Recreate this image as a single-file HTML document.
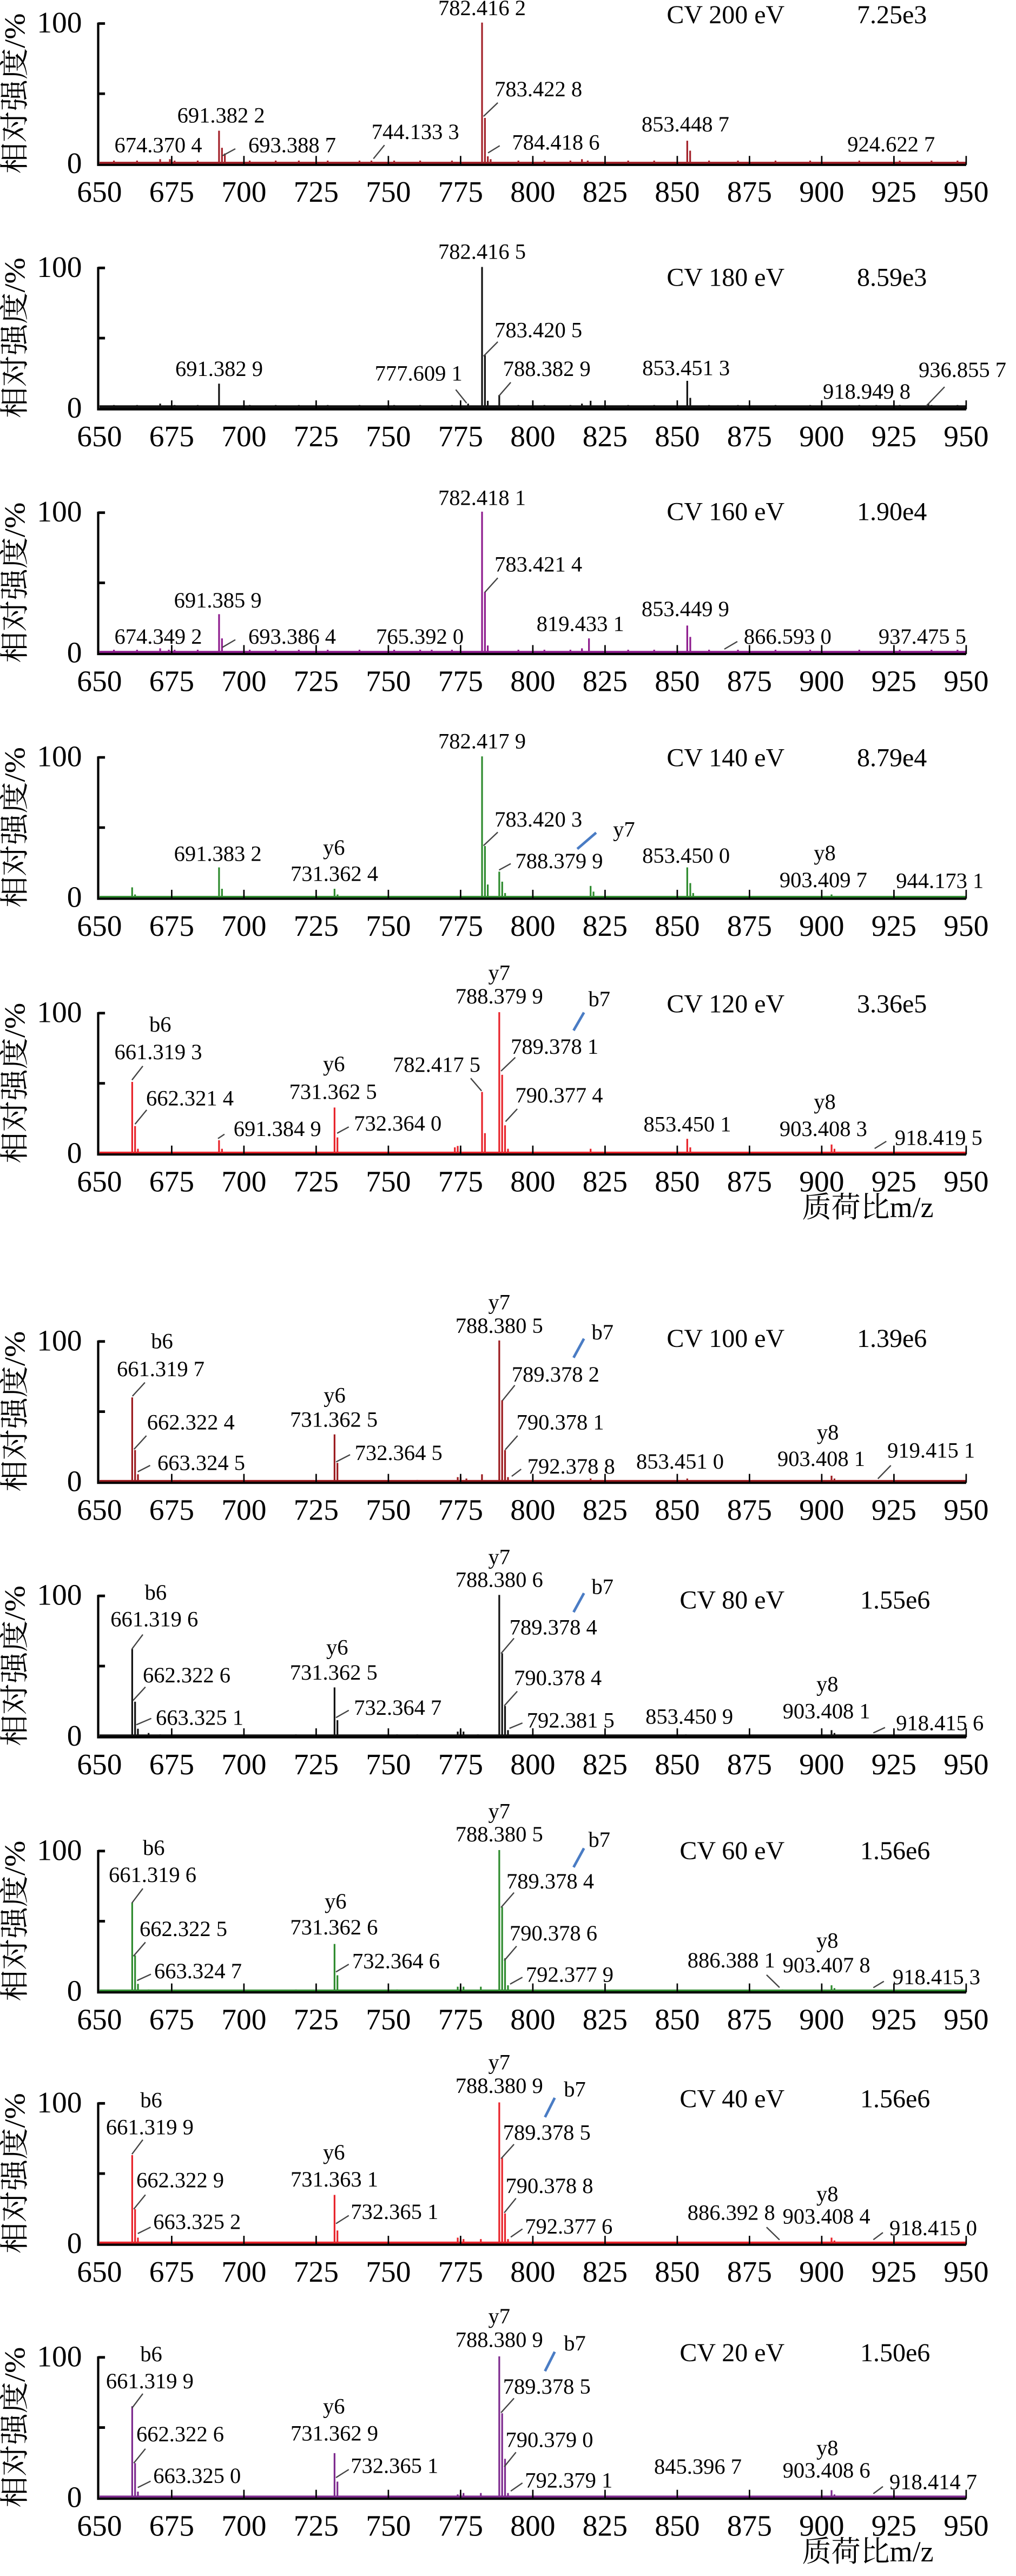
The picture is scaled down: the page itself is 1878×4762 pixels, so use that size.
<!DOCTYPE html>
<html><head><meta charset="utf-8"><style>
html,body{margin:0;padding:0;background:#fff;}
svg{display:block;}
text{font-family:"Liberation Serif","Noto Serif CJK SC",serif;fill:#000;}
.a{font-size:13.5px;}
.tk{font-size:18.5px;text-anchor:middle;}
.yt{font-size:18.5px;text-anchor:end;}
.cv{font-size:16px;}
.cve{font-size:16px;text-anchor:end;}
.m{text-anchor:middle;}
.yl{font-size:18px;font-family:"Liberation Serif","Noto Serif CJK SC","Noto Sans CJK SC",serif;text-anchor:middle;}
.ld{stroke:#444;stroke-width:0.8;fill:none;}
.bl{stroke:#4a7cc4;stroke-width:1.6;fill:none;}
.xl{font-size:18px;font-family:"Liberation Serif","Noto Serif CJK SC",serif;}
</style></head><body>
<svg width="1878" height="4762" viewBox="0 0 626 1587.33" xmlns="http://www.w3.org/2000/svg">
<defs>
<g id="ax" stroke="#000" fill="none">
<path d="M60.5 0V87.7H595.3" stroke-width="1.4"/>
<path d="M60.5 0.6H64.7M60.5 43.85H64.7" stroke-width="1.6"/>
<path d="M105.8 87.7V82.2M150.3 87.7V82.2M194.8 87.7V82.2M239.3 87.7V82.2M283.8 87.7V82.2M328.3 87.7V82.2M372.8 87.7V82.2M417.3 87.7V82.2M461.8 87.7V82.2M506.3 87.7V82.2M550.8 87.7V82.2M595.3 87.7V82.2" stroke-width="0.9"/>
</g>
<path id="nz" d="M655 0V3M658 0V2M663 0V3M667 0V2M671 0V4M676 0V3M680 0V2M684 0V3M697 0V2M702 0V3M706 0V2M711 0V3M715 0V2M719 0V3M724 0V2M729 0V3M736 0V2M740 0V3M747 0V2M752 0V3M757 0V2M761 0V3M768 0V2M772 0V3M795 0V3M799 0V2M804 0V3M809 0V2M813 0V3M817 0V4M828 0V2M833 0V3M838 0V2M842 0V3M846 0V2M861 0V3M866 0V2M871 0V3M878 0V2M884 0V3M891 0V2M896 0V3M909 0V2M913 0V3M920 0V2M927 0V3M933 0V2M938 0V3M943 0V2M947 0V3"/>
</defs>

<!-- Panel 1 -->
<g transform="translate(0,13.9)">
<text class="yl" transform="translate(15.2,43.7) rotate(-90)" textLength="99" lengthAdjust="spacingAndGlyphs">相对强度/%</text>
<text class="yt" x="50.5" y="6.1">100</text><text class="yt" x="50.5" y="92.8">0</text>
<g transform="translate(-1095.7,87.7) scale(1.78,-0.877)" stroke="#a3222a" stroke-width="0.6" fill="#a3222a">
<rect x="650" y="0" width="300" height="2.2" stroke="none"/>
<use href="#nz"/>
<path d="M782.42 0V100M783.42 0V33M784.42 0V6M785.4 0V4M691.38 0V24M692.4 0V12M693.39 0V8M853.45 0V17M854.45 0V10M674.37 0V4M744.13 0V3M819 0V3"/>
</g>
<use href="#ax"/>
<text class="tk" y="110.5"><tspan x="61.3">650</tspan><tspan x="105.8">675</tspan><tspan x="150.3">700</tspan><tspan x="194.8">725</tspan><tspan x="239.3">750</tspan><tspan x="283.8">775</tspan><tspan x="328.3">800</tspan><tspan x="372.8">825</tspan><tspan x="417.3">850</tspan><tspan x="461.8">875</tspan><tspan x="506.3">900</tspan><tspan x="550.8">925</tspan><tspan x="595.3">950</tspan></text>
<text class="a m" x="297" y="-4.5">782.416 2</text>
<text class="a" x="304.7" y="45.5">783.422 8</text>
<text class="a" x="109.2" y="61.6">691.382 2</text>
<text class="a" x="70.5" y="80">674.370 4</text>
<text class="a" x="153" y="80">693.388 7</text>
<text class="a" x="228.9" y="71.7">744.133 3</text>
<text class="a" x="315.5" y="78.3">784.418 6</text>
<text class="a" x="395.3" y="67.1">853.448 7</text>
<text class="a" x="522.1" y="79.4">924.622 7</text>
<text class="cve" x="483.4" y="0.5">CV 200 eV</text><text class="cv" x="528" y="0.5">7.25e3</text>
<path class="ld" d="M306.7 49.4L297.9 57.8M145 77.8L137 82.1M236.9 75.5L230.1 83.9M307.9 75.9L300.7 80.3"/>
</g>

<!-- Panel 2 -->
<g transform="translate(0,164.5)">
<text class="yl" transform="translate(15.2,43.7) rotate(-90)" textLength="99" lengthAdjust="spacingAndGlyphs">相对强度/%</text>
<text class="yt" x="50.5" y="6.1">100</text><text class="yt" x="50.5" y="92.8">0</text>
<g transform="translate(-1095.7,87.7) scale(1.78,-0.877)" stroke="#111" stroke-width="0.6" fill="#111">
<rect x="650" y="0" width="300" height="2.8" stroke="none"/>
<use href="#nz"/>
<path d="M782.42 0V100M783.42 0V38M784.4 0V6M691.38 0V18M788.38 0V10M853.45 0V20M854.5 0V8M777.6 0V4M820 0V6M918.9 0V3M936.9 0V4"/>
</g>
<use href="#ax"/>
<text class="tk" y="110.5"><tspan x="61.3">650</tspan><tspan x="105.8">675</tspan><tspan x="150.3">700</tspan><tspan x="194.8">725</tspan><tspan x="239.3">750</tspan><tspan x="283.8">775</tspan><tspan x="328.3">800</tspan><tspan x="372.8">825</tspan><tspan x="417.3">850</tspan><tspan x="461.8">875</tspan><tspan x="506.3">900</tspan><tspan x="550.8">925</tspan><tspan x="595.3">950</tspan></text>
<text class="a m" x="297" y="-5">782.416 5</text>
<text class="a" x="304.7" y="43.3">783.420 5</text>
<text class="a" x="108" y="67.2">691.382 9</text>
<text class="a" x="230.9" y="70">777.609 1</text>
<text class="a" x="309.9" y="67.2">788.382 9</text>
<text class="a" x="395.7" y="66.7">853.451 3</text>
<text class="a" x="507" y="81.1">918.949 8</text>
<text class="a" x="566" y="67.8">936.855 7</text>
<text class="cve" x="483.4" y="11.7">CV 180 eV</text><text class="cv" x="528" y="11.7">8.59e3</text>
<path class="ld" d="M306.7 46.1L297.9 55M280.8 75.6L287.5 83.9M314.7 71.1L307.5 79.4M582 73.9L570.8 85.6"/>
</g>

<!-- Panel 3 -->
<g transform="translate(0,315.3)">
<text class="yl" transform="translate(15.2,43.7) rotate(-90)" textLength="99" lengthAdjust="spacingAndGlyphs">相对强度/%</text>
<text class="yt" x="50.5" y="6.1">100</text><text class="yt" x="50.5" y="92.8">0</text>
<g transform="translate(-1095.7,87.7) scale(1.78,-0.877)" stroke="#8e1c8e" stroke-width="0.6" fill="#8e1c8e">
<rect x="650" y="0" width="300" height="2.2" stroke="none"/>
<use href="#nz"/>
<path d="M782.42 0V100M783.42 0V43.6M784.4 0V6M691.39 0V28M692.4 0V11M853.45 0V20M854.5 0V12M819.43 0V11M817 0V3M674 0V3M765 0V3M866 0V2"/>
</g>
<use href="#ax"/>
<text class="tk" y="110.5"><tspan x="61.3">650</tspan><tspan x="105.8">675</tspan><tspan x="150.3">700</tspan><tspan x="194.8">725</tspan><tspan x="239.3">750</tspan><tspan x="283.8">775</tspan><tspan x="328.3">800</tspan><tspan x="372.8">825</tspan><tspan x="417.3">850</tspan><tspan x="461.8">875</tspan><tspan x="506.3">900</tspan><tspan x="550.8">925</tspan><tspan x="595.3">950</tspan></text>
<text class="a m" x="297" y="-4.2">782.418 1</text>
<text class="a" x="304.7" y="36.9">783.421 4</text>
<text class="a" x="107.2" y="59.1">691.385 9</text>
<text class="a" x="70.5" y="81.3">674.349 2</text>
<text class="a" x="153" y="81.3">693.386 4</text>
<text class="a" x="231.7" y="81.3">765.392 0</text>
<text class="a" x="330.6" y="73.6">819.433 1</text>
<text class="a" x="395.3" y="64.4">853.449 9</text>
<text class="a" x="458.3" y="81.3">866.593 0</text>
<text class="a" x="541.3" y="81.3">937.475 5</text>
<text class="cve" x="483.4" y="5.2">CV 160 eV</text><text class="cv" x="528" y="5.2">1.90e4</text>
<path class="ld" d="M306.7 40.8L298.7 49.7M145 78.9L137 83.6M454.3 80L446.3 84.7"/>
</g>

<!-- Panel 4 -->
<g transform="translate(0,466.1)">
<text class="yl" transform="translate(15.2,43.7) rotate(-90)" textLength="99" lengthAdjust="spacingAndGlyphs">相对强度/%</text>
<text class="yt" x="50.5" y="6.1">100</text><text class="yt" x="50.5" y="92.8">0</text>
<g transform="translate(-1095.7,87.7) scale(1.78,-0.877)" stroke="#2e8b2e" stroke-width="0.6" fill="#2e8b2e">
<rect x="650" y="0" width="300" height="2" stroke="none"/>
<path d="M782.42 0V100M783.42 0V37M784.4 0V10M788.38 0V19M789.4 0V12M790.4 0V4M691.38 0V22M692.4 0V7M853.45 0V22M854.5 0V11M855.5 0V4M820 0V9M821 0V5M661.3 0V8M662.3 0V3M731.36 0V7M732.4 0V3M903.4 0V3"/>
</g>
<use href="#ax"/>
<text class="tk" y="110.5"><tspan x="61.3">650</tspan><tspan x="105.8">675</tspan><tspan x="150.3">700</tspan><tspan x="194.8">725</tspan><tspan x="239.3">750</tspan><tspan x="283.8">775</tspan><tspan x="328.3">800</tspan><tspan x="372.8">825</tspan><tspan x="417.3">850</tspan><tspan x="461.8">875</tspan><tspan x="506.3">900</tspan><tspan x="550.8">925</tspan><tspan x="595.3">950</tspan></text>
<text class="a m" x="297" y="-5">782.417 9</text>
<text class="a" x="304.7" y="43.3">783.420 3</text>
<text class="a" x="377.7" y="49.4">y7</text>
<text class="a" x="317.5" y="68.9">788.379 9</text>
<text class="a" x="107.2" y="64.4">691.383 2</text>
<text class="a" x="199" y="60.6">y6</text>
<text class="a" x="179" y="76.7">731.362 4</text>
<text class="a" x="395.7" y="65.6">853.450 0</text>
<text class="a" x="501.4" y="63.9">y8</text>
<text class="a" x="480.3" y="80.6">903.409 7</text>
<text class="a" x="552.1" y="81.1">944.173 1</text>
<text class="cve" x="483.4" y="6.1">CV 140 eV</text><text class="cv" x="528" y="6.1">8.79e4</text>
<path class="ld" d="M306.7 46.7L297.9 55M314.7 66.1L307.5 70"/>
<path class="bl" d="M367.3 47L355.7 57"/>
</g>

<!-- Panel 5 -->
<g transform="translate(0,623.7)">
<text class="yl" transform="translate(15.2,43.7) rotate(-90)" textLength="99" lengthAdjust="spacingAndGlyphs">相对强度/%</text>
<text class="yt" x="50.5" y="6.1">100</text><text class="yt" x="50.5" y="92.8">0</text>
<g transform="translate(-1095.7,87.7) scale(1.78,-0.877)" stroke="#e8232a" stroke-width="0.6" fill="#e8232a">
<rect x="650" y="0" width="300" height="2" stroke="none"/>
<path d="M788.38 0V100M789.38 0V56M790.38 0V20.5M791.4 0V4M782.42 0V44M783.42 0V15M661.32 0V51M662.32 0V20M663.3 0V4M731.36 0V33M732.36 0V12M691.38 0V10M692.4 0V4M853.45 0V11M854.5 0V5M903.41 0V7M904.4 0V4M820 0V4M773 0V5M774 0V6M775 0V4M744 0V1.5M768 0V2M710 0V2M714 0V2M670 0V2M676 0V2M779 0V2"/>
</g>
<use href="#ax"/>
<text class="tk" y="110.5"><tspan x="61.3">650</tspan><tspan x="105.8">675</tspan><tspan x="150.3">700</tspan><tspan x="194.8">725</tspan><tspan x="239.3">750</tspan><tspan x="283.8">775</tspan><tspan x="328.3">800</tspan><tspan x="372.8">825</tspan><tspan x="417.3">850</tspan><tspan x="461.8">875</tspan><tspan x="506.3">900</tspan><tspan x="550.8">925</tspan><tspan x="595.3">950</tspan></text>
<text class="a m" x="307.6" y="-19.8">y7</text>
<text class="a m" x="307.6" y="-5.4">788.379 9</text>
<text class="a" x="362.5" y="-3.7">b7</text>
<text class="a" x="92" y="12">b6</text>
<text class="a" x="70.5" y="29">661.319 3</text>
<text class="a" x="90" y="57.4">662.321 4</text>
<text class="a" x="143.9" y="76.3">691.384 9</text>
<text class="a" x="199" y="36.3">y6</text>
<text class="a" x="178.2" y="53.5">731.362 5</text>
<text class="a" x="218.1" y="72.9">732.364 0</text>
<text class="a" x="242" y="36.8">782.417 5</text>
<text class="a" x="314.7" y="25.7">789.378 1</text>
<text class="a" x="317.5" y="55.7">790.377 4</text>
<text class="a" x="396.5" y="73.5">853.450 1</text>
<text class="a" x="501.4" y="59.6">y8</text>
<text class="a" x="480.3" y="76.3">903.408 3</text>
<text class="a" x="551.3" y="81.8">918.419 5</text>
<text class="cve" x="483.4" y="0.2">CV 120 eV</text><text class="cv" x="528" y="0.2">3.36e5</text>
<path class="ld" d="M88 33.2L81.3 41.8M90.4 60.2L83.2 69M138.3 75.2L134.3 77.9M214.9 70.7L207.7 74.6M290 40.7L296.7 48.5M317.5 27.9L308.7 36.3M318.7 59.6L311.5 67.4M546.1 79.6L538.9 84"/>
<path class="bl" d="M359.8 0.2L353.4 11.3"/>
<text class="xl" x="494.2" y="126.3">质荷比m/z</text>
</g>

<!-- Panel 6 -->
<g transform="translate(0,826)">
<text class="yl" transform="translate(15.2,43.7) rotate(-90)" textLength="99" lengthAdjust="spacingAndGlyphs">相对强度/%</text>
<text class="yt" x="50.5" y="6.1">100</text><text class="yt" x="50.5" y="92.8">0</text>
<g transform="translate(-1095.7,87.7) scale(1.78,-0.877)" stroke="#9b1a1e" stroke-width="0.6" fill="#9b1a1e">
<rect x="650" y="0" width="300" height="2" stroke="none"/>
<path d="M788.38 0V100M789.38 0V58M790.38 0V23M791.4 0V4M661.32 0V60M662.32 0V23M663.32 0V6M731.36 0V34M732.36 0V14M782.4 0V6M853.45 0V3M903.4 0V5M904.4 0V3M820 0V3M774 0V4M775 0V4M777 0V3M760 0V2M678 0V2M700 0V2"/>
</g>
<use href="#ax"/>
<text class="tk" y="110.5"><tspan x="61.3">650</tspan><tspan x="105.8">675</tspan><tspan x="150.3">700</tspan><tspan x="194.8">725</tspan><tspan x="239.3">750</tspan><tspan x="283.8">775</tspan><tspan x="328.3">800</tspan><tspan x="372.8">825</tspan><tspan x="417.3">850</tspan><tspan x="461.8">875</tspan><tspan x="506.3">900</tspan><tspan x="550.8">925</tspan><tspan x="595.3">950</tspan></text>
<text class="a m" x="307.6" y="-19.1">y7</text>
<text class="a m" x="307.6" y="-4.6">788.380 5</text>
<text class="a" x="364.5" y="-0.6">b7</text>
<text class="a" x="93.1" y="4.8">b6</text>
<text class="a" x="72" y="22">661.319 7</text>
<text class="a" x="90.6" y="54.8">662.322 4</text>
<text class="a" x="97" y="79.8">663.324 5</text>
<text class="a" x="199.4" y="38.2">y6</text>
<text class="a" x="178.7" y="53.2">731.362 5</text>
<text class="a" x="218.6" y="73.7">732.364 5</text>
<text class="a" x="315.3" y="25.4">789.378 2</text>
<text class="a" x="318.2" y="54.8">790.378 1</text>
<text class="a" x="324.9" y="82">792.378 8</text>
<text class="a" x="392" y="79">853.451 0</text>
<text class="a" x="503.3" y="61">y8</text>
<text class="a" x="479" y="77.3">903.408 1</text>
<text class="a" x="546.7" y="72.1">919.415 1</text>
<text class="cve" x="483.4" y="4">CV 100 eV</text><text class="cv" x="528" y="4">1.39e6</text>
<path class="ld" d="M89.3 25.9L81.6 34.3M90.2 58.7L82.6 67M92.5 77L84.9 80.9M215.7 70.4L207.1 74.8M317.2 27.6L309.6 37M318.9 58.7L311.3 67.3M321.1 79.3L315.3 83.7M548.9 77L540.9 85.2"/>
<path class="bl" d="M359.8 -1.1L353.4 10.6"/>
</g>

<!-- Panel 7 -->
<g transform="translate(0,982.8)">
<text class="yl" transform="translate(15.2,43.7) rotate(-90)" textLength="99" lengthAdjust="spacingAndGlyphs">相对强度/%</text>
<text class="yt" x="50.5" y="6.1">100</text><text class="yt" x="50.5" y="92.8">0</text>
<g transform="translate(-1095.7,87.7) scale(1.78,-0.877)" stroke="#111" stroke-width="0.6" fill="#111">
<rect x="650" y="0" width="300" height="2" stroke="none"/>
<path d="M788.38 0V100M789.38 0V59M790.38 0V22M791.4 0V5M661.32 0V62M662.32 0V25M663.3 0V6M731.36 0V35M732.36 0V12M903.4 0V5M904.4 0V3M853 0V2M774 0V4M775 0V5M776 0V4M781 0V2M667 0V3M671 0V2M718 0V2M753 0V2M760 0V2"/>
</g>
<use href="#ax"/>
<text class="tk" y="110.5"><tspan x="61.3">650</tspan><tspan x="105.8">675</tspan><tspan x="150.3">700</tspan><tspan x="194.8">725</tspan><tspan x="239.3">750</tspan><tspan x="283.8">775</tspan><tspan x="328.3">800</tspan><tspan x="372.8">825</tspan><tspan x="417.3">850</tspan><tspan x="461.8">875</tspan><tspan x="506.3">900</tspan><tspan x="550.8">925</tspan><tspan x="595.3">950</tspan></text>
<text class="a m" x="307.6" y="-18.9">y7</text>
<text class="a m" x="307.6" y="-5">788.380 6</text>
<text class="a" x="364.5" y="-0.6">b7</text>
<text class="a" x="89.2" y="2.8">b6</text>
<text class="a" x="68.1" y="19.4">661.319 6</text>
<text class="a" x="88" y="53.9">662.322 6</text>
<text class="a" x="96" y="80">663.325 1</text>
<text class="a" x="201" y="36.7">y6</text>
<text class="a" x="178.6" y="52.2">731.362 5</text>
<text class="a" x="218.1" y="73.9">732.364 7</text>
<text class="a" x="313.9" y="24.4">789.378 4</text>
<text class="a" x="316.7" y="55.6">790.378 4</text>
<text class="a" x="324.6" y="81.7">792.381 5</text>
<text class="a" x="397.7" y="79.4">853.450 9</text>
<text class="a" x="503" y="59.4">y8</text>
<text class="a" x="482.2" y="76.1">903.408 1</text>
<text class="a" x="552.1" y="83.3">918.415 6</text>
<text class="cve" x="483.4" y="8.3">CV 80 eV</text><text class="cv" x="530" y="8.3">1.55e6</text>
<path class="ld" d="M88 24.4L81.3 33.3M89.6 56.7L82 65M93.2 76.1L84 80M214.9 71.1L207 75.6M316.7 26.7L308.7 36.1M318.7 59.4L310.7 68.3M321.9 78.9L313.9 82.2M545.3 81.7L538.1 85"/>
<path class="bl" d="M359.8 -1.1L353.4 10.6"/>
</g>

<!-- Panel 8 -->
<g transform="translate(0,1140)">
<text class="yl" transform="translate(15.2,43.7) rotate(-90)" textLength="99" lengthAdjust="spacingAndGlyphs">相对强度/%</text>
<text class="yt" x="50.5" y="6.1">100</text><text class="yt" x="50.5" y="92.8">0</text>
<g transform="translate(-1095.7,87.7) scale(1.78,-0.877)" stroke="#2e8b2e" stroke-width="0.6" fill="#2e8b2e">
<rect x="650" y="0" width="300" height="2" stroke="none"/>
<path d="M788.38 0V100M789.38 0V60M790.38 0V24M791.4 0V5M661.32 0V63M662.32 0V26M663.32 0V6M731.36 0V34M732.36 0V12M903.4 0V5M904.4 0V3M886.4 0V2M774 0V4M775 0V4M776 0V4M782 0V4M667 0V2M718 0V2M753 0V2"/>
</g>
<use href="#ax"/>
<text class="tk" y="110.5"><tspan x="61.3">650</tspan><tspan x="105.8">675</tspan><tspan x="150.3">700</tspan><tspan x="194.8">725</tspan><tspan x="239.3">750</tspan><tspan x="283.8">775</tspan><tspan x="328.3">800</tspan><tspan x="372.8">825</tspan><tspan x="417.3">850</tspan><tspan x="461.8">875</tspan><tspan x="506.3">900</tspan><tspan x="550.8">925</tspan><tspan x="595.3">950</tspan></text>
<text class="a m" x="307.6" y="-19.5">y7</text>
<text class="a m" x="307.6" y="-5.4">788.380 5</text>
<text class="a" x="362.5" y="-2">b7</text>
<text class="a" x="88" y="3">b6</text>
<text class="a" x="67" y="19.6">661.319 6</text>
<text class="a" x="86" y="53">662.322 5</text>
<text class="a" x="95" y="79">663.324 7</text>
<text class="a" x="200" y="36">y6</text>
<text class="a" x="178.8" y="52">731.362 6</text>
<text class="a" x="217" y="72.9">732.364 6</text>
<text class="a" x="312" y="23.7">789.378 4</text>
<text class="a" x="314" y="55.7">790.378 6</text>
<text class="a" x="324" y="81.2">792.377 9</text>
<text class="a" x="423.6" y="72.4">886.388 1</text>
<text class="a" x="503" y="60.1">y8</text>
<text class="a" x="482.2" y="75.4">903.407 8</text>
<text class="a" x="550" y="82.6">918.415 3</text>
<text class="cve" x="483.4" y="5.6">CV 60 eV</text><text class="cv" x="530" y="5.6">1.56e6</text>
<path class="ld" d="M88 23.7L81.3 32.6M89.6 56.8L82.2 65.4M93 76.5L84.5 80.4M214.9 70.4L207 75.1M316.7 26.2L308.7 35.4M318.3 59.2L310.7 68.1M321.9 78.4L314.3 82.6M472.3 76.9L480.3 84.7M544.6 80.9L538.1 84.8"/>
<path class="bl" d="M359.8 -1.1L353.4 10.6"/>
</g>

<!-- Panel 9 -->
<g transform="translate(0,1295.5)">
<text class="yl" transform="translate(15.2,43.7) rotate(-90)" textLength="99" lengthAdjust="spacingAndGlyphs">相对强度/%</text>
<text class="yt" x="50.5" y="6.1">100</text><text class="yt" x="50.5" y="92.8">0</text>
<g transform="translate(-1095.7,87.7) scale(1.78,-0.877)" stroke="#e8232a" stroke-width="0.6" fill="#e8232a">
<rect x="650" y="0" width="300" height="2.2" stroke="none"/>
<path d="M788.38 0V100M789.38 0V61M790.38 0V22M791.4 0V4M661.32 0V63M662.32 0V25M663.3 0V5M731.36 0V35M732.36 0V10M903.4 0V5M904.4 0V3M886 0V2M774 0V5M775 0V4M776 0V4M782 0V4M667 0V2M671 0V2M718 0V2M753 0V2M760 0V2"/>
</g>
<use href="#ax"/>
<text class="tk" y="110.5"><tspan x="61.3">650</tspan><tspan x="105.8">675</tspan><tspan x="150.3">700</tspan><tspan x="194.8">725</tspan><tspan x="239.3">750</tspan><tspan x="283.8">775</tspan><tspan x="328.3">800</tspan><tspan x="372.8">825</tspan><tspan x="417.3">850</tspan><tspan x="461.8">875</tspan><tspan x="506.3">900</tspan><tspan x="550.8">925</tspan><tspan x="595.3">950</tspan></text>
<text class="a m" x="307.6" y="-20.3">y7</text>
<text class="a m" x="307.6" y="-5.9">788.380 9</text>
<text class="a" x="347.4" y="-3.7">b7</text>
<text class="a" x="86.4" y="3">b6</text>
<text class="a" x="65.3" y="19.7">661.319 9</text>
<text class="a" x="84" y="52.4">662.322 9</text>
<text class="a" x="94.4" y="78">663.325 2</text>
<text class="a" x="199" y="35.2">y6</text>
<text class="a" x="179" y="51.9">731.363 1</text>
<text class="a" x="216.1" y="71.9">732.365 1</text>
<text class="a" x="309.9" y="23">789.378 5</text>
<text class="a" x="311.5" y="55.8">790.378 8</text>
<text class="a" x="323.4" y="80.8">792.377 6</text>
<text class="a" x="423.6" y="72.4">886.392 8</text>
<text class="a" x="503" y="60.8">y8</text>
<text class="a" x="482.2" y="74.7">903.408 4</text>
<text class="a" x="548" y="81.9">918.415 0</text>
<text class="cve" x="483.4" y="3">CV 40 eV</text><text class="cv" x="530" y="3">1.56e6</text>
<path class="ld" d="M88 23L81.3 31.9M89.6 56.9L82.4 65.8M92.8 76.9L84.9 80.8M214.9 69.7L207 74.7M316.7 25.8L308.7 34.7M317.9 59.1L310.7 68M321.9 78L314.7 83M472.3 76.9L480.3 84.7M544 80.2L538.1 84.6"/>
<path class="bl" d="M341.8 -2.8L335.8 9.1"/>
</g>

<!-- Panel 10 -->
<g transform="translate(0,1452)">
<text class="yl" transform="translate(15.2,43.7) rotate(-90)" textLength="99" lengthAdjust="spacingAndGlyphs">相对强度/%</text>
<text class="yt" x="50.5" y="6.1">100</text><text class="yt" x="50.5" y="92.8">0</text>
<g transform="translate(-1095.7,87.7) scale(1.78,-0.877)" stroke="#7d2a8e" stroke-width="0.6" fill="#7d2a8e">
<rect x="650" y="0" width="300" height="2.2" stroke="none"/>
<path d="M788.38 0V100M789.38 0V60M790.38 0V28M791.4 0V4M661.32 0V65M662.32 0V25M663.3 0V5M731.36 0V32M732.36 0V12M903.4 0V6M904.4 0V3M845 0V2M774 0V3M775 0V4M776 0V4M782 0V4M667 0V2M718 0V2M753 0V2"/>
</g>
<use href="#ax"/>
<text class="tk" y="110.5"><tspan x="61.3">650</tspan><tspan x="105.8">675</tspan><tspan x="150.3">700</tspan><tspan x="194.8">725</tspan><tspan x="239.3">750</tspan><tspan x="283.8">775</tspan><tspan x="328.3">800</tspan><tspan x="372.8">825</tspan><tspan x="417.3">850</tspan><tspan x="461.8">875</tspan><tspan x="506.3">900</tspan><tspan x="550.8">925</tspan><tspan x="595.3">950</tspan></text>
<text class="a m" x="307.6" y="-20.3">y7</text>
<text class="a m" x="307.6" y="-5.9">788.380 9</text>
<text class="a" x="347.4" y="-3.7">b7</text>
<text class="a" x="86.4" y="3">b6</text>
<text class="a" x="65.3" y="19.7">661.319 9</text>
<text class="a" x="84" y="52.4">662.322 6</text>
<text class="a" x="94.4" y="78">663.325 0</text>
<text class="a" x="199" y="35.2">y6</text>
<text class="a" x="179" y="51.9">731.362 9</text>
<text class="a" x="216.1" y="71.9">732.365 1</text>
<text class="a" x="309.9" y="23">789.378 5</text>
<text class="a" x="311.5" y="55.8">790.379 0</text>
<text class="a" x="323.4" y="80.8">792.379 1</text>
<text class="a" x="403" y="72.4">845.396 7</text>
<text class="a" x="503" y="60.8">y8</text>
<text class="a" x="482.2" y="74.7">903.408 6</text>
<text class="a" x="548" y="81.9">918.414 7</text>
<text class="cve" x="483.4" y="3">CV 20 eV</text><text class="cv" x="530" y="3">1.50e6</text>
<path class="ld" d="M88 23L81.3 31.9M89.6 56.9L82.4 65.8M92.8 76.9L84.9 80.8M214.9 69.7L207 74.7M316.7 25.8L308.7 34.7M317.9 59.1L310.7 68M321.9 78L314.7 83M544 80.2L538.1 84.6"/>
<path class="bl" d="M341.8 -2.8L335.8 9.1"/>
<text class="xl" x="494.2" y="126.3">质荷比m/z</text>
</g>
</svg>
</body></html>
